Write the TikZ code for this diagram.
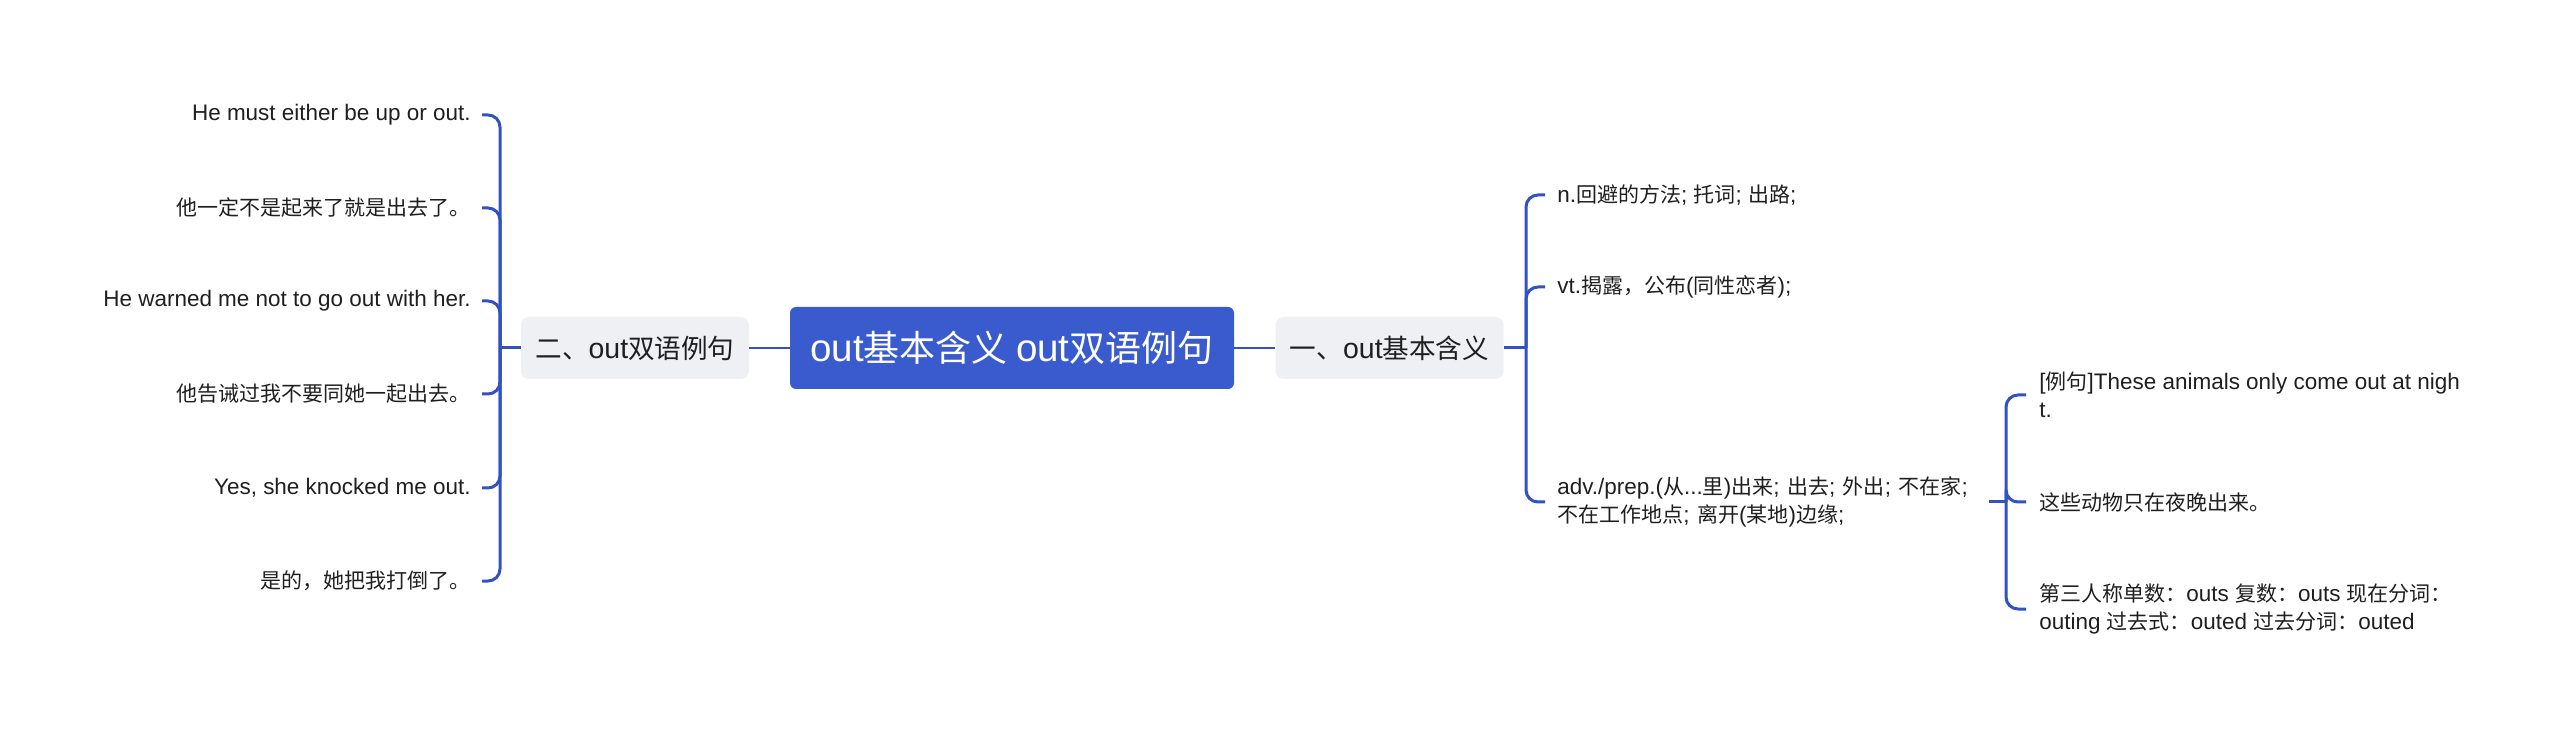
\documentclass[tikz,border=0pt]{standalone}
\usepackage{fontspec}
\setmainfont{Liberation Sans}[Scale=1.07]
\newfontfamily\latf{Liberation Sans}[Scale=1.07]
\newfontfamily\cjkf{Noto Sans CJK SC}
% automatic font switching between Latin and CJK characters
\XeTeXinterchartokenstate=1
\newcount\ccnt
\def\setcls#1#2#3{\ccnt=#1\relax\loop\XeTeXcharclass\ccnt=#3\relax\advance\ccnt by 1\relax\ifnum\ccnt<#2\relax\repeat}
\setcls{32}{127}{0}
\setcls{"3000}{"3040}{7}
\setcls{"4E00}{"A000}{7}
\setcls{"FF00}{"FFF0}{7}
\XeTeXinterchartoks 0 7 = {\cjkf}
\XeTeXinterchartoks 4095 7 = {\cjkf}
\XeTeXinterchartoks 7 0 = {\latf}
\XeTeXinterchartoks 4095 0 = {\latf}
\definecolor{cblue}{HTML}{3A5BCD}
\definecolor{lblue}{HTML}{3352C2}
\definecolor{cgray}{HTML}{EEF0F4}
\definecolor{txt}{HTML}{1F1F1F}
\tikzset{
  rootbox/.style={fill=cblue, rounded corners=3pt, text=white, minimum width=222pt, minimum height=41pt, inner sep=0pt, font=\fontsize{18pt}{22pt}\selectfont},
  mainbox/.style={fill=cgray, rounded corners=4pt, text=txt, minimum width=114pt, minimum height=31pt, inner sep=0pt, font=\fontsize{13.3pt}{16pt}\selectfont},
  leaf/.style={font=\fontsize{10.5pt}{14pt}\selectfont, text=txt, inner ysep=2pt},
  lleaf/.style={leaf, anchor=east, inner xsep=5.5pt, align=right},
  rleaf/.style={leaf, anchor=west, inner xsep=6pt, align=left},
  sleaf/.style={leaf, anchor=west, inner xsep=6.5pt, align=left},
  thin conn/.style={draw=lblue, line width=1.1pt},
  conn/.style={draw=lblue, line width=1.5pt, rounded corners=6pt}
}
\begin{document}
\begin{tikzpicture}[x=0.5pt,y=-0.5pt]
\useasboundingbox (0,0) rectangle (2560,737);
% central and main nodes
\node[rootbox] (c) at (1012,348) {out基本含义 out双语例句};
\node[mainbox] (n2) at (635,348) {二、out双语例句};
\node[mainbox] (n1) at (1389.5,348) {一、out基本含义};
\draw[thin conn] (c.west) -- (n2.east);
\draw[thin conn] (c.east) -- (n1.west);
% left children
\coordinate (jL) at (500,348);
\node[lleaf] (l1) at (482,115) {He must either be up or out.};
\node[lleaf] (l2) at (482,208) {他一定不是起来了就是出去了。};
\node[lleaf] (l3) at (482,301) {He warned me not to go out with her.};
\node[lleaf] (l4) at (482,394) {他告诫过我不要同她一起出去。};
\node[lleaf] (l5) at (482,488) {Yes, she knocked me out.};
\node[lleaf] (l6) at (482,581) {是的，她把我打倒了。};
\draw[conn] (n2.west) -- (jL);
\foreach \n in {l1,l2,l3,l4,l5,l6} { \draw[conn] (jL) |- (\n.east); }
% right children
\coordinate (jR) at (1526,348);
\node[rleaf] (r1) at (1545,195) {n.回避的方法; 托词; 出路;};
\node[rleaf] (r2) at (1545,287) {vt.揭露，公布(同性恋者);};
\node[rleaf, text width=209.5pt] (r3) at (1545,502) {adv./prep.(从...里)出来; 出去; 外出; 不在家;\\不在工作地点; 离开(某地)边缘;};
\draw[conn] (n1.east) -- (jR);
\foreach \n in {r1,r2,r3} { \draw[conn] (jR) |- (\n.west); }
% sub children of r3
\coordinate (jS) at (2006,502);
\node[sleaf] (s1) at (2026,395) {[例句]These animals only come out at nigh\\t.};
\node[sleaf] (s2) at (2026,502) {这些动物只在夜晚出来。};
\node[sleaf] (s3) at (2026,609) {第三人称单数：outs 复数：outs 现在分词：\\outing 过去式：outed 过去分词：outed};
\draw[conn] (r3.east) -- (jS);
\foreach \n in {s1,s2,s3} { \draw[conn] (jS) |- (\n.west); }
\end{tikzpicture}
\end{document}
